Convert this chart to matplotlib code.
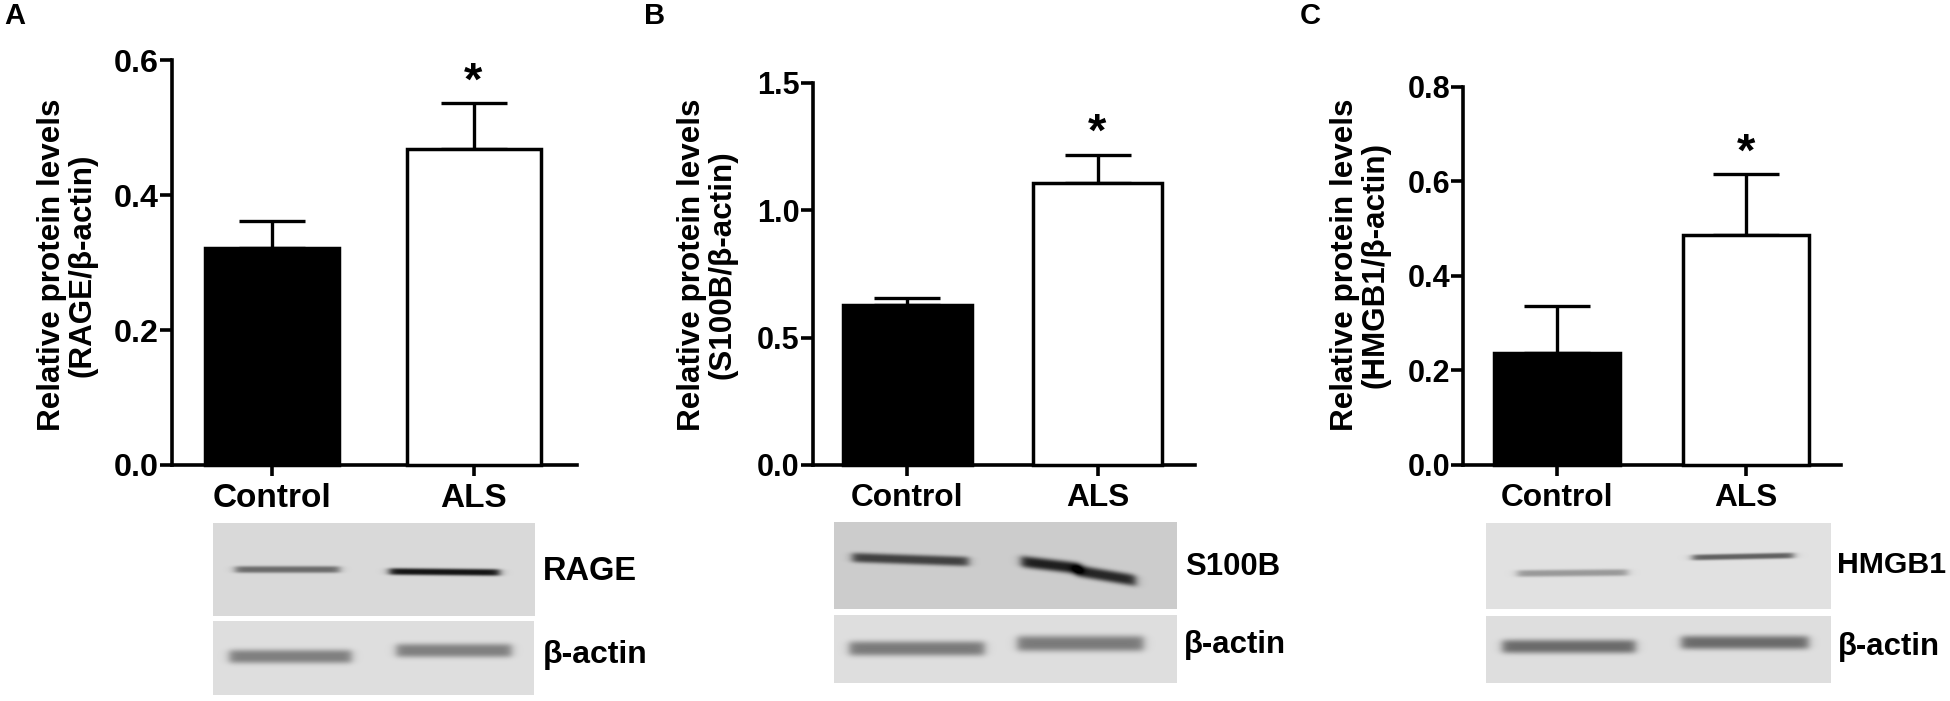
import matplotlib
matplotlib.use('Agg')
import matplotlib.pyplot as plt
import numpy as np

plt.rcParams['font.family'] = ['Liberation Sans', 'DejaVu Sans']
plt.rcParams['font.weight'] = 'bold'

W, H = 1950, 701

categories = ['Control', 'ALS']

rage_means = [0.3215, 0.469]
rage_errs = [0.040, 0.067]
rage_ticks = [0.0, 0.2, 0.4, 0.6]

s100b_means = [0.629, 1.108]
s100b_errs = [0.026, 0.111]
s100b_ticks = [0.0, 0.5, 1.0, 1.5]

hmgb1_means = [0.2364, 0.487]
hmgb1_errs = [0.100, 0.128]
hmgb1_ticks = [0.0, 0.2, 0.4, 0.6, 0.8]

fig = plt.figure(figsize=(W / 100, H / 100), dpi=100)

# pixel coordinate layer for the blots and loose labels
bg = fig.add_axes([0, 0, 1, 1])
bg.set_xlim(0, W)
bg.set_ylim(H, 0)
bg.axis('off')


def px_axes(left, right, top, bottom):
    return fig.add_axes([left / W, 1 - bottom / H, (right - left) / W, (bottom - top) / H])


def blot(x0, x1, y0, y1, shade, bands):
    # bands: x start, x end, y start, y end, sigma, darkness
    xs, ys = np.meshgrid(np.arange(x0, x1), np.arange(y0, y1))
    img = np.full(xs.shape, float(shade))
    for bx0, bx1, by0, by1, sig, dark in bands:
        centre = by0 + (by1 - by0) * (xs - bx0) / (bx1 - bx0)
        prof = np.exp(-np.abs((ys - centre) / sig) ** 3)
        edge = 0.5 * (np.tanh((xs - bx0) / 5) - np.tanh((xs - bx1) / 5))
        img = img - (shade - dark) * prof * edge
    bg.imshow(img, cmap='gray', vmin=0, vmax=1, extent=(x0, x1, y1, y0), aspect='auto', interpolation='bilinear')


def panel(letter, letter_x, box, ticks_px, bars_w, axis_left, means, errs, yticks, ylab, ylab_xy, tick_fs, star_off):
    left, right, top, bottom = box
    ax = px_axes(left, right, top, bottom)
    t0, t1 = ticks_px
    step = t1 - t0
    ax.set_xlim((left - t0) / step, (right - t0) / step)
    ax.set_ylim(yticks[0], yticks[-1])
    ax.patch.set_alpha(0)

    x = np.arange(len(categories))
    ax.bar(x, means, width=bars_w / step, color=['black', 'white'], edgecolor='black', linewidth=2.5, zorder=3, clip_on=False)
    for i in x:
        ax.errorbar(i, means[i], yerr=[[0], [errs[i]]], color='black', elinewidth=2.4,
                    capsize=24, capthick=2.4, zorder=2, clip_on=False)

    ax.spines['top'].set_visible(False)
    ax.spines['right'].set_visible(False)
    ax.spines['left'].set_linewidth(2.6)
    ax.spines['bottom'].set_linewidth(2.6)
    ax.set_xticks(x)
    ax.set_xticklabels(categories)
    ax.set_yticks(yticks)
    ax.set_yticklabels(['%.1f' % v for v in yticks])
    ax.tick_params(axis='y', width=2.6, length=axis_left, labelsize=tick_fs, pad=1)
    ax.tick_params(axis='x', width=2.6, length=8, labelsize=tick_fs + 0.8, pad=5)

    ax.set_ylabel(ylab, fontsize=22.6, fontweight='bold', rotation=90, ha='center', va='center',
                  multialignment='center', linespacing=1.03)
    ax.yaxis.set_label_coords(ylab_xy[0], ylab_xy[1], transform=bg.transData)

    ax.annotate('*', (1, means[1] + errs[1]), xytext=(0, star_off), textcoords='offset points',
                ha='center', va='center', fontsize=34, fontweight='bold')
    bg.text(letter_x, 16, letter, fontsize=21, ha='left', va='center')
    return ax


panel('A', 4, (171.7, 576.6, 60.3, 464.9), (271.5, 473.5), 134, 8.5, rage_means, rage_errs, rage_ticks,
      'Relative protein levels\n(RAGE/β-actin)', (67, 265), 23.2, 15)
panel('B', 644, (812.6, 1194.7, 83, 465), (907, 1097.5), 129, 8.5, s100b_means, s100b_errs, s100b_ticks,
      'Relative protein levels\n(S100B/β-actin)', (707, 265), 22, 15)
panel('C', 1300, (1463.4, 1841, 86.7, 465), (1557, 1746), 126, 8.5, hmgb1_means, hmgb1_errs, hmgb1_ticks,
      'Relative protein levels\n(HMGB1/β-actin)', (1360, 265), 22, 15)

# western blot strips
blot(213, 535, 523, 616, 0.85, [(235, 339, 569, 569, 3.5, 0.42), (389, 499, 571, 572, 3.5, 0.08)])
blot(213, 534, 621, 695, 0.87, [(229, 351, 656, 656, 7, 0.5), (396, 511, 650, 650, 7, 0.5)])
blot(834, 1177, 522, 609, 0.8, [(852, 968, 557, 561, 5, 0.25), (1021, 1080, 561, 568, 6, 0.12), (1075, 1135, 570, 580, 6, 0.15)])
blot(834, 1177, 615, 683, 0.87, [(849, 984, 648, 648, 7.5, 0.48), (1017, 1143, 643, 643, 8, 0.48)])
blot(1486, 1831, 523, 609, 0.88, [(1517, 1627, 573, 572, 3.5, 0.6), (1692, 1793, 557, 555, 3, 0.38)])
blot(1486, 1831, 616, 683, 0.87, [(1502, 1635, 646, 646, 7, 0.42), (1681, 1808, 642, 642, 7, 0.42)])

blot_labels = [(543, 571, 'RAGE', 23.5), (543, 655, 'β-actin', 23), (1185, 567, 'S100B', 22.4),
               (1184, 645, 'β-actin', 22.4), (1837, 565, 'HMGB1', 21.8), (1838, 647, 'β-actin', 22.4)]
for lx, ly, txt, fs in blot_labels:
    bg.text(lx, ly, txt, fontsize=fs, ha='left', va='center')

bg.set_xlim(0, W)
bg.set_ylim(H, 0)
fig.savefig('out.png', dpi=100, facecolor='white')
